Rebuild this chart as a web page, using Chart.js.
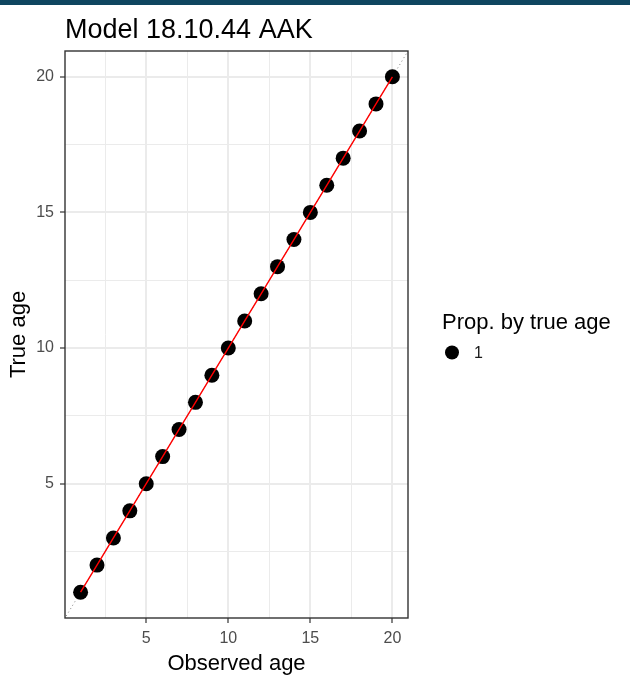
<!DOCTYPE html>
<html>
<head>
<meta charset="utf-8">
<script src="https://cdn.jsdelivr.net/npm/chart.js@4/dist/chart.umd.min.js"></script>
<style>
  html, body { margin: 0; padding: 0; background: #ffffff; }
  #wrap { position: relative; width: 630px; height: 675px; }
</style>
</head>
<body>
<div id="wrap"><canvas id="chart" width="630" height="675"></canvas></div>
<script>
// Observed vs true age for model 18.10.44 AAK
const observedAge = [1, 2, 3, 4, 5, 6, 7, 8, 9, 10, 11, 12, 13, 14, 15, 16, 17, 18, 19, 20];
const trueAge     = [1, 2, 3, 4, 5, 6, 7, 8, 9, 10, 11, 12, 13, 14, 15, 16, 17, 18, 19, 20];
const propByTrueAge = [1, 1, 1, 1, 1, 1, 1, 1, 1, 1, 1, 1, 1, 1, 1, 1, 1, 1, 1, 1];
const gridValues = [2.5, 5, 7.5, 10, 12.5, 15, 17.5, 20];   // major + minor grid
const tickLabels = [5, 10, 15, 20];
const legendValues = ['1'];
const diagonal = [0, 21];

const chartTitle = 'Model 18.10.44 AAK';
const xTitle = 'Observed age';
const yTitle = 'True age';
const legendTitle = 'Prop. by true age';

const FONT = '"Liberation Sans", Arial, sans-serif';
const axisMin = 0.05, axisMax = 20.95;

const points = observedAge.map((x, i) => ({ x, y: trueAge[i] }));
const diag = diagonal.map(v => ({ x: v, y: v }));

const isMajor = v => tickLabels.includes(v);

function scaleOpts(title, isX) {
  return {
    type: 'linear',
    min: axisMin,
    max: axisMax,
    afterBuildTicks: s => { s.ticks = gridValues.map(v => ({ value: v })); },
    afterFit: s => {
      if (isX) s.height = 675 - 618; else s.width = 65;
    },
    grid: {
      color: '#ebebeb',
      lineWidth: ctx => (ctx.tick && isMajor(ctx.tick.value)) ? 2 : 1,
      tickColor: ctx => (ctx.tick && isMajor(ctx.tick.value)) ? '#333333' : 'rgba(0,0,0,0)',
      tickLength: 5,
      tickWidth: 1.2,
      drawOnChartArea: true
    },
    border: { display: false },
    ticks: {
      autoSkip: false,
      maxRotation: 0,
      padding: isX ? 6 : 6,
      color: '#4d4d4d',
      font: { family: FONT, size: 16 },
      callback: v => isMajor(v) ? String(v) : ''
    },
    title: {
      display: true,
      text: title,
      color: '#000000',
      font: { family: FONT, size: 22 },
      padding: isX ? { top: 0, bottom: -2 } : { top: 6, bottom: 0 }
    }
  };
}

// Header strip, plot title, panel border and legend
const decorations = {
  id: 'decorations',
  beforeDraw(chart) {
    const ctx = chart.ctx;
    ctx.save();
    ctx.fillStyle = '#0f4660';
    ctx.fillRect(0, 0, 630, 5);
    ctx.fillStyle = '#000000';
    ctx.font = '27px ' + FONT;
    ctx.textBaseline = 'alphabetic';
    ctx.textAlign = 'left';
    ctx.fillText(chartTitle, 65, 38);
    ctx.restore();
  },
  afterDatasetsDraw(chart) {
    const ctx = chart.ctx;
    const a = chart.chartArea;
    ctx.save();
    ctx.strokeStyle = '#333333';
    ctx.lineWidth = 1.4;
    ctx.strokeRect(a.left, a.top, a.right - a.left, a.bottom - a.top);
    ctx.restore();
  },
  afterDraw(chart) {
    const ctx = chart.ctx;
    ctx.save();
    ctx.fillStyle = '#000000';
    ctx.font = '22px ' + FONT;
    ctx.textBaseline = 'alphabetic';
    ctx.textAlign = 'left';
    ctx.fillText(legendTitle, 442, 329);
    legendValues.forEach((lab, i) => {
      const cy = 352.5 + i * 24;
      ctx.beginPath();
      ctx.arc(452, cy, 7, 0, Math.PI * 2);
      ctx.fillStyle = '#000000';
      ctx.fill();
      ctx.fillStyle = '#1a1a1a';
      ctx.font = '16px ' + FONT;
      ctx.textBaseline = 'middle';
      ctx.fillText(lab, 474, cy + 1);
    });
    ctx.restore();
  }
};

new Chart(document.getElementById('chart'), {
  type: 'scatter',
  data: {
    datasets: [
      {
        label: 'y = x',
        data: diag,
        showLine: true,
        borderColor: '#7f7f7f',
        borderWidth: 1,
        borderDash: [1, 3],
        pointRadius: 0,
        order: 3
      },
      {
        label: legendTitle,
        data: points,
        showLine: false,
        pointRadius: 7.5,
        pointHoverRadius: 7.5,
        pointBackgroundColor: '#000000',
        pointBorderColor: '#000000',
        pointBorderWidth: 0,
        order: 2
      },
      {
        label: 'fit',
        data: points,
        showLine: true,
        borderColor: '#ff0000',
        borderWidth: 1.4,
        pointRadius: 0,
        order: 1
      }
    ]
  },
  options: {
    responsive: false,
    animation: false,
    layout: { padding: { top: 51, right: 222, bottom: 0, left: 0 } },
    plugins: {
      legend: { display: false },
      title: { display: false },
      tooltip: { enabled: false }
    },
    scales: {
      x: scaleOpts(xTitle, true),
      y: scaleOpts(yTitle, false)
    }
  },
  plugins: [decorations]
});
</script>
</body>
</html>
